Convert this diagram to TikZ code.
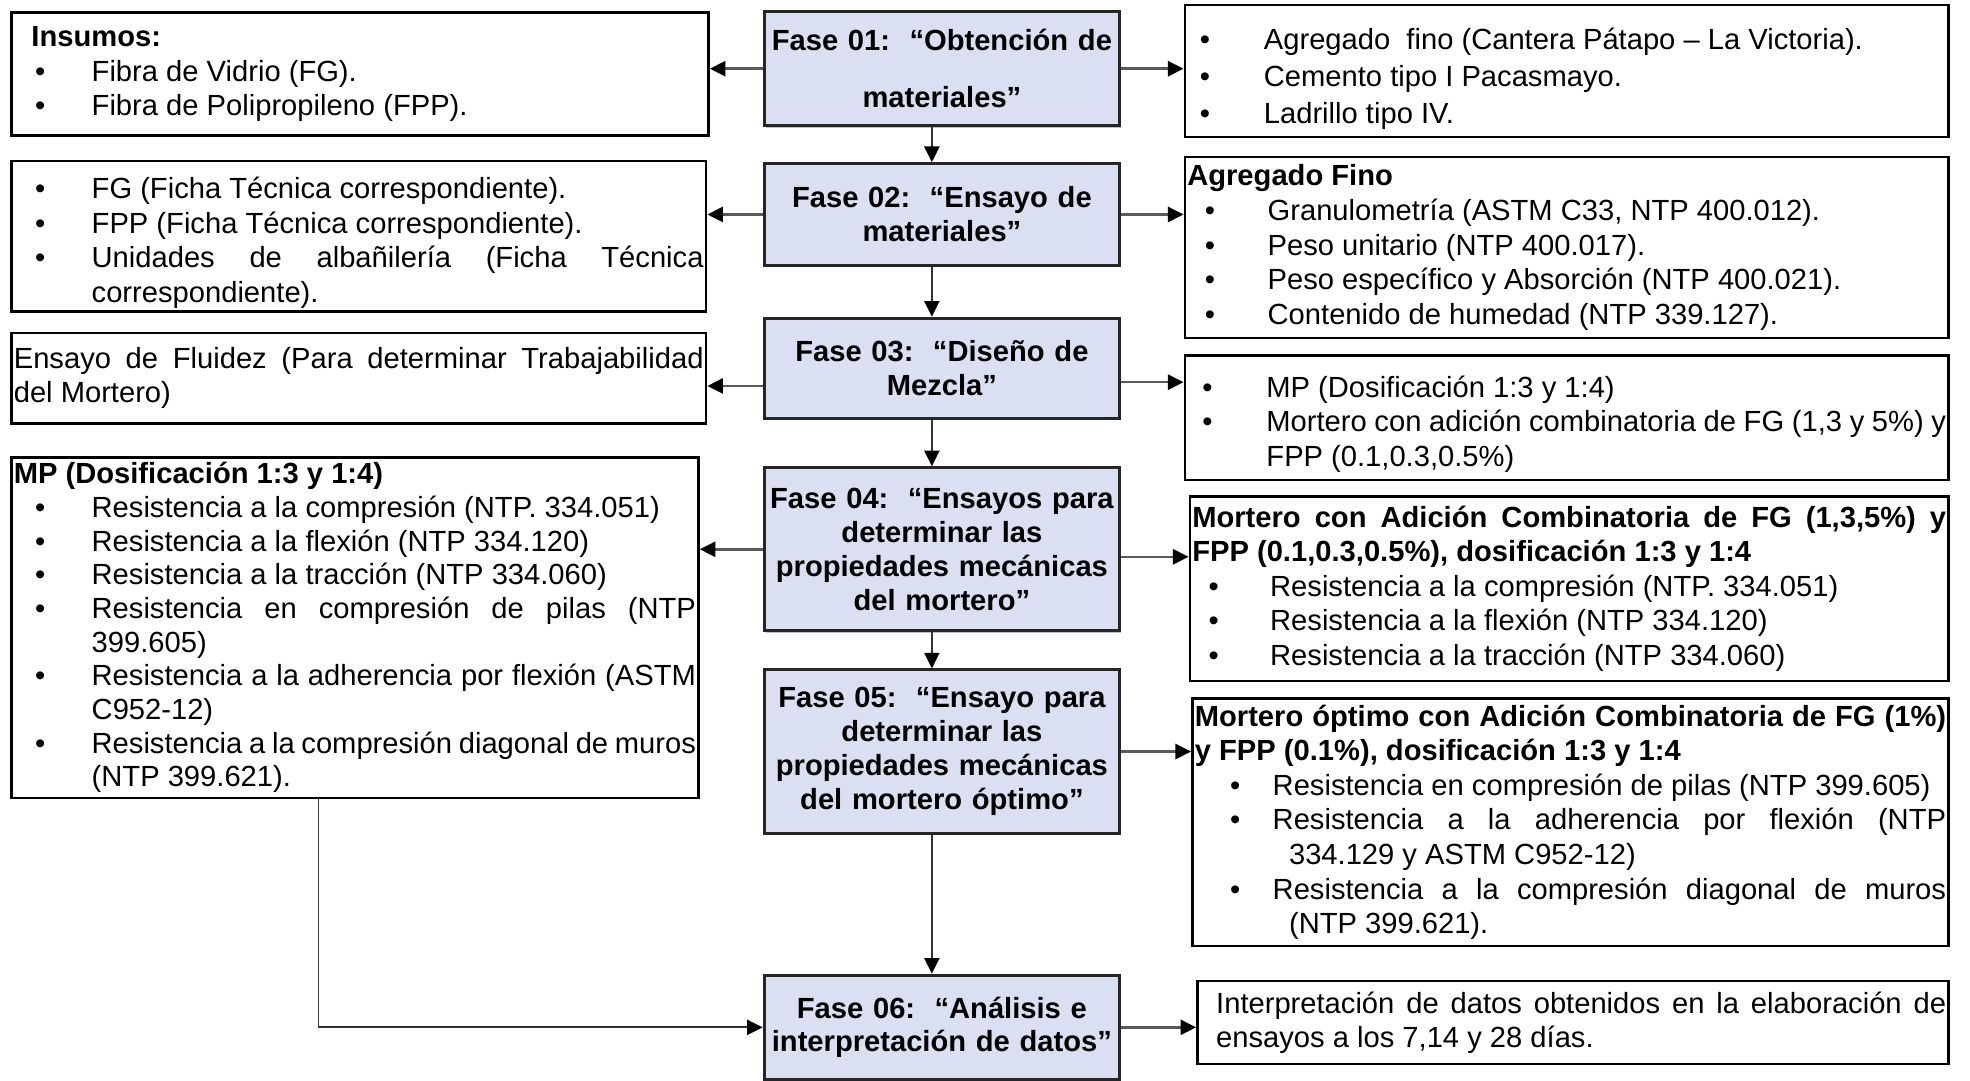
\documentclass[tikz,border=0pt]{standalone}
\usepackage{fontspec}
\setmainfont{Liberation Sans}
\usepackage{color}
\definecolor{mylila}{RGB}{218,223,242}
\definecolor{mygris}{RGB}{90,90,90}
\usepackage{tikz}
\usetikzlibrary{arrows.meta,positioning,shadows}
\newdimen\pxu \pxu=0.5pt
\newcommand{\punto}[3]{\par\noindent\hangindent=#3\pxu\hangafter=1\hbox to #2\pxu{\hskip#1\pxu\textbullet\hfil}\ignorespaces}
\hyphenpenalty=10000
\exhyphenpenalty=10000
\tikzstyle{fase}=[draw=black!85,line width=1.2pt,fill=mylila,anchor=north west,inner xsep=2\pxu,inner ysep=0pt,text width=279\pxu,align=center,font=\fontsize{11.6}{13.5}\selectfont\bfseries,drop shadow={shadow xshift=0.7pt,shadow yshift=-0.7pt,opacity=0.5}]
\tikzstyle{caja}=[draw,line width=1pt,anchor=north west,inner xsep=2\pxu,inner ysep=0pt,align=justify,font=\fontsize{11.6}{13.75}\selectfont]
\tikzstyle{flecha}=[draw=mygris,line width=1pt,->]
\tikzstyle{baja}=[draw=black!80,line width=0.7pt,->]

\begin{document}
\begin{tikzpicture}[x=0.5pt,y=-0.5pt,>={Triangle[length=6.2pt,width=6pt,color=black]}]
\useasboundingbox (0,0) rectangle (1568,860);

% fases
\node[fase,minimum height=91\pxu] (f1) at (607,8) {Fase 01:\ \ “Obtención de\\[9pt]materiales”};
\node[fase,minimum height=81\pxu] (f2) at (607,129) {Fase 02:\ \ “Ensayo de\\materiales”};
\node[fase,minimum height=80\pxu] (f3) at (607,252) {Fase 03:\ \ “Diseño de\\Mezcla”};
\node[fase,minimum height=130\pxu] (f4) at (607,371) {Fase 04:\ \ “Ensayos para\\determinar las\\propiedades mecánicas\\del mortero”};
\node[fase,minimum height=130\pxu] (f5) at (607,532) {Fase 05:\ \ “Ensayo para\\determinar las\\propiedades mecánicas\\del mortero óptimo”};
\node[fase,minimum height=83\pxu] (f6) at (607,775) {Fase 06:\ \ “Análisis e\\interpretación de datos”};

% lado izquierdo
\node[caja,text width=551\pxu,minimum height=98\pxu] (in1) at (8,9) {\hspace*{14\pxu}\textbf{Insumos:}
  \punto{17}{62}{62}Fibra de Vidrio (FG).
  \punto{17}{62}{62}Fibra de Polipropileno (FPP).\par};
\node[caja,text width=549\pxu,minimum height=120\pxu] (in2) at (8,127) {\punto{17}{62}{62}FG (Ficha Técnica correspondiente).
  \punto{17}{62}{62}FPP (Ficha Técnica correspondiente).
  \punto{17}{62}{62}Unidades de albañilería (Ficha Técnica correspondiente).\par};
\node[caja,text width=549\pxu,minimum height=72\pxu] (in3) at (8,264) {Ensayo de Fluidez (Para determinar Trabajabilidad\linebreak del Mortero)\par};
\node[caja,text width=543\pxu,minimum height=271\pxu,font=\fontsize{11.6}{13.4}\selectfont] (in4) at (8,363) {\textbf{MP (Dosificación 1:3 y 1:4)}
  \punto{17}{62}{62}Resistencia a la compresión (NTP. 334.051)
  \punto{17}{62}{62}Resistencia a la flexión (NTP 334.120)
  \punto{17}{62}{62}Resistencia a la tracción (NTP 334.060)
  \punto{17}{62}{62}Resistencia en compresión de pilas (NTP 399.605)
  \punto{17}{62}{62}Resistencia a la adherencia por flexión (ASTM C952-12)
  \punto{17}{62}{62}Resistencia a la compresión diagonal de muros\linebreak (NTP 399.621).\par};

% lado derecho
\node[caja,text width=604\pxu,minimum height=105\pxu,font=\fontsize{11.6}{14.75}\selectfont] (r1) at (942,3) {\punto{10}{61}{61}Agregado\ \ fino (Cantera Pátapo – La Victoria).
  \punto{10}{61}{61}Cemento tipo I Pacasmayo.
  \punto{10}{61}{61}Ladrillo tipo IV.\par};
\node[caja,text width=604\pxu,minimum height=144\pxu] (r2) at (942,124) {\textbf{Agregado Fino}
  \punto{14}{64}{64}Granulometría (ASTM C33, NTP 400.012).
  \punto{14}{64}{64}Peso unitario (NTP 400.017).
  \punto{14}{64}{64}Peso específico y Absorción (NTP 400.021).
  \punto{14}{64}{64}Contenido de humedad (NTP 339.127).\par};
\node[caja,text width=604\pxu,minimum height=99\pxu] (r3) at (942,282) {\punto{12}{63}{63}MP (Dosificación 1:3 y 1:4)
  \punto{12}{63}{63}Mortero con adición combinatoria de FG (1,3 y 5\%) y FPP (0.1,0.3,0.5\%)\par};
\node[caja,text width=600\pxu,minimum height=147\pxu] (r4) at (946,394) {\textbf{Mortero con Adición Combinatoria de FG (1,3,5\%) y\linebreak FPP (0.1,0.3,0.5\%), dosificación 1:3 y 1:4}
  \punto{13}{62}{62}Resistencia a la compresión (NTP. 334.051)
  \punto{13}{62}{62}Resistencia a la flexión (NTP 334.120)
  \punto{13}{62}{62}Resistencia a la tracción (NTP 334.060)\par};
\node[caja,text width=598\pxu,minimum height=197\pxu] (r5) at (948,555) {\textbf{Mortero óptimo con Adición Combinatoria de FG (1\%)\linebreak y FPP (0.1\%), dosificación 1:3 y 1:4}
  \punto{28}{62}{75}Resistencia en compresión de pilas (NTP 399.605)
  \punto{28}{62}{75}Resistencia a la adherencia por flexión (NTP\linebreak 334.129 y ASTM C952-12)
  \punto{28}{62}{75}Resistencia a la compresión diagonal de muros\linebreak (NTP 399.621).\par};
\node[caja,text width=594\pxu,minimum height=66\pxu] (r6) at (952,780) {\leftskip=13\pxu Interpretación de datos obtenidos en la elaboración de ensayos a los 7,14 y 28 días.\par};

% flechas
\coordinate (f3l) at ([yshift=-14\pxu]f3.west);
\coordinate (f3r) at ([yshift=-11\pxu]f3.east);
\coordinate (f4r) at ([yshift=-6\pxu]f4.east);
\draw[flecha] (f1.west) -- (f1.west -| in1.east);
\draw[flecha] (f1.east) -- (f1.east -| r1.west);
\draw[flecha] (f2.west) -- (f2.west -| in2.east);
\draw[flecha] (f2.east) -- (f2.east -| r2.west);
\draw[flecha] (f3l) -- (f3l -| in3.east);
\draw[flecha] (f3r) -- (f3r -| r3.west);
\draw[flecha] (f4.west) -- (f4.west -| in4.east);
\draw[flecha] (f4r) -- (f4r -| r4.west);
\draw[flecha] (f5.east) -- (f5.east -| r5.west);
\draw[flecha] (f6.east) -- (f6.east -| r6.west);
\foreach \a/\b in {f1/f2,f2/f3,f3/f4,f4/f5,f5/f6}
  \draw[baja] ([xshift=-8\pxu]\a.south) -- ([xshift=-8\pxu]\b.north);
\draw[baja] ([xshift=-29\pxu]in4.south) |- (f6.west);
\end{tikzpicture}
\end{document}
